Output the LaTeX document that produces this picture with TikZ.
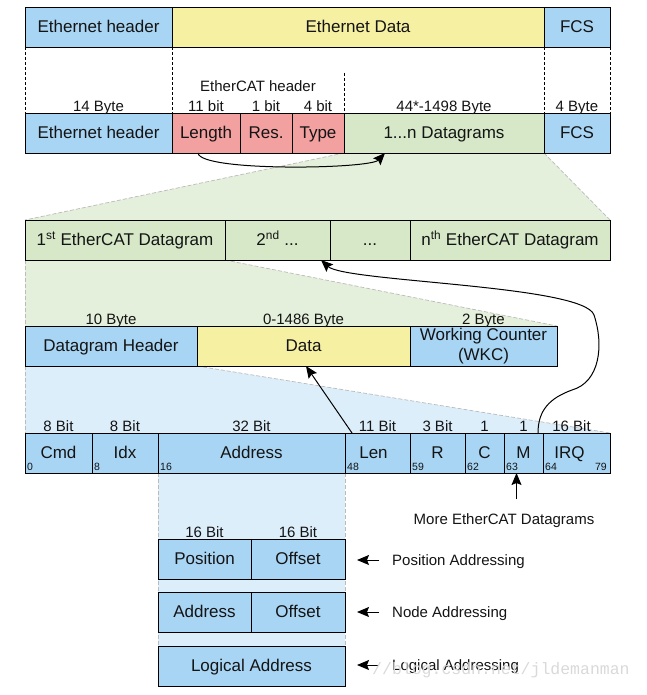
\documentclass[tikz,border=0pt]{standalone}
\usepackage{fontspec}
\setmainfont{Liberation Sans}
\newfontfamily\wmfont{Liberation Mono}
\usetikzlibrary{arrows.meta,backgrounds}
\definecolor{cblue}{HTML}{A9D5F5}
\definecolor{cyell}{HTML}{F5F0A2}
\definecolor{cpink}{HTML}{F2A0A0}
\definecolor{cgreen}{HTML}{D6E8C8}
\definecolor{lgreen}{HTML}{E4F0DB}
\definecolor{lblue}{HTML}{DDEEFB}
\definecolor{edgegrey}{HTML}{BBBBBB}
\definecolor{ink}{HTML}{141414}
\tikzset{
  box/.style={draw=black, line width=0.9pt, inner sep=0pt, outer sep=0pt,
    anchor=north west, minimum height=40pt, text height=13.5pt, text depth=2.5pt,
    font=\fontsize{17}{20}\selectfont, text=ink},
  lab/.style={font=\fontsize{15}{18}\selectfont, inner sep=0pt, anchor=base, text=ink},
  smallnum/.style={font=\fontsize{10.5}{12}\selectfont, inner sep=0pt, text=ink},
  arr/.style={-{Stealth[length=12pt,width=10pt,inset=2pt]}, line width=1pt},
  topdash/.style={dash pattern=on 3pt off 2pt, line width=0.7pt},
  greydash/.style={draw=edgegrey, dash pattern=on 4pt off 2pt, line width=0.7pt}
}
\begin{document}
\begin{tikzpicture}[x=1pt,y=-1pt]
\useasboundingbox (0,0) rectangle (646,695);

% Row 1
\node[box, fill=cblue, minimum width=147pt] (eh1) at (25,7) {Ethernet header};
\node[box, fill=cyell, minimum width=372pt] (ed1) at (172,7) {Ethernet Data};
\node[box, fill=cblue, minimum width=66pt] (fcs1) at (544,7) {FCS};

% Row 2
\node[box, fill=cblue, minimum width=147pt] (eh2) at (25,113) {Ethernet header};
\node[box, fill=cpink, minimum width=68pt] (len) at (172,113) {Length};
\node[box, fill=cpink, minimum width=52pt] (res) at (240,113) {Res.};
\node[box, fill=cpink, minimum width=52pt] (typ) at (292,113) {Type};
\node[box, fill=cgreen, minimum width=200pt] (dgs) at (344,113) {1...n Datagrams};
\node[box, fill=cblue, minimum width=66pt] (fcs2) at (544,113) {FCS};

\draw[topdash] (eh1.south west) -- (eh2.north west);
\draw[topdash] (eh1.south east) -- (len.north west);
\draw[topdash] (fcs1.south west) -- (fcs2.north west);
\draw[topdash] (fcs1.south east) -- (fcs2.north east);
\coordinate (ecdash) at (344,73);
\draw[topdash] (ecdash) -- (typ.north east);

\node[lab] (ech) at (258,92) {EtherCAT header};
\node[lab] (l14) at ([yshift=1.5pt]eh2.north) {14 Byte};
\node[lab] (l11) at ([yshift=1.5pt]len.north) {11 bit};
\node[lab] (l1b) at ([yshift=1.5pt]res.north) {1 bit};
\node[lab] (l4b) at ([yshift=1.5pt]typ.north) {4 bit};
\node[lab] (l44) at ([yshift=1.5pt]dgs.north) {44*-1498 Byte};
\node[lab] (l4B) at ([yshift=1.5pt]fcs2.north) {4 Byte};

% Row 3
\node[box, fill=cgreen, minimum width=200pt] (dg1) at (25,220) {1\textsuperscript{st} EtherCAT Datagram};
\node[box, fill=cgreen, minimum width=105pt] (dg2) at (225,220) {2\textsuperscript{nd} ...};
\node[box, fill=cgreen, minimum width=80pt] (dg3) at (330,220) {...};
\node[box, fill=cgreen, minimum width=200pt] (dgn) at (410,220) {n\textsuperscript{th} EtherCAT Datagram};

% Row 4
\node[box, fill=cblue, minimum width=172pt] (dh) at (25,326) {Datagram Header};
\node[box, fill=cyell, minimum width=213pt] (data) at (197,326) {Data};
\node[draw=black, line width=0.9pt, inner sep=0pt, outer sep=0pt, anchor=north west,
  minimum height=40pt, minimum width=147pt, fill=cblue, align=center, text=ink,
  font=\fontsize{17}{20}\selectfont] (wkc) at (410,326) {Working Counter\\(WKC)};

\node[lab] (l10) at ([yshift=1.5pt]dh.north) {10 Byte};
\node[lab] (l0) at ([yshift=1.5pt]data.north) {0-1486 Byte};
\node[lab] (l2) at ([yshift=1.5pt]wkc.north) {2 Byte};

% Row 5
\node[box, fill=cblue, minimum width=67pt] (cmd) at (25,433) {Cmd};
\node[box, fill=cblue, minimum width=66pt] (idx) at (92,433) {Idx};
\node[box, fill=cblue, minimum width=187pt] (addr) at (158,433) {Address};
\node[box, fill=cblue, minimum width=65pt] (lenf) at (345,433) {\hspace*{-8pt}Len};
\node[box, fill=cblue, minimum width=55pt] (rf) at (410,433) {R};
\node[box, fill=cblue, minimum width=39pt] (cf) at (465,433) {C};
\node[box, fill=cblue, minimum width=39pt] (mf) at (504,433) {M};
\node[box, fill=cblue, minimum width=67pt] (irq) at (543,433) {IRQ\hspace*{14pt}};

\node[lab] (b1) at ([yshift=2pt]cmd.north) {8 Bit};
\node[lab] (b2) at ([yshift=2pt]idx.north) {8 Bit};
\node[lab] (b3) at ([yshift=2pt]addr.north) {32 Bit};
\node[lab] (b4) at ([yshift=2pt]lenf.north) {11 Bit};
\node[lab] (b5) at ([yshift=2pt]rf.north) {3 Bit};
\node[lab] (b6) at ([yshift=2pt]cf.north) {1};
\node[lab] (b7) at ([yshift=2pt]mf.north) {1};
\node[lab] (b8) at ([xshift=-5pt,yshift=2pt]irq.north) {16 Bit};

\node[smallnum, anchor=base west] (n0) at ([xshift=2pt,yshift=2.5pt]cmd.south west) {0};
\node[smallnum, anchor=base west] (n8) at ([xshift=2pt,yshift=2.5pt]idx.south west) {8};
\node[smallnum, anchor=base west] (n16) at ([xshift=2pt,yshift=2.5pt]addr.south west) {16};
\node[smallnum, anchor=base west] (n48) at ([xshift=2pt,yshift=2.5pt]lenf.south west) {48};
\node[smallnum, anchor=base west] (n59) at ([xshift=2pt,yshift=2.5pt]rf.south west) {59};
\node[smallnum, anchor=base west] (n62) at ([xshift=2pt,yshift=2.5pt]cf.south west) {62};
\node[smallnum, anchor=base west] (n63) at ([xshift=2pt,yshift=2.5pt]mf.south west) {63};
\node[smallnum, anchor=base west] (n64) at ([xshift=2pt,yshift=2.5pt]irq.south west) {64};
\node[smallnum, anchor=base east] (n79) at ([xshift=-3pt,yshift=2.5pt]irq.south east) {79};

% Bottom address variants
\node[box, fill=cblue, minimum width=93pt] (pos) at (158,539) {Position};
\node[box, fill=cblue, minimum width=94pt] (off1) at (251,539) {Offset};
\node[box, fill=cblue, minimum width=93pt] (nad) at (158,592) {Address};
\node[box, fill=cblue, minimum width=94pt] (off2) at (251,592) {Offset};
\node[box, fill=cblue, minimum width=187pt] (logb) at (158,646) {Logical Address};

\node[lab] (p16) at ([yshift=2pt]pos.north) {16 Bit};
\node[lab] (o16) at ([yshift=2pt]off1.north) {16 Bit};

\node[lab, anchor=base west] (pa) at (392,565) {Position Addressing};
\node[lab, anchor=base west] (na) at (392,617) {Node Addressing};
\node[lab, anchor=base west] (la) at (392,670) {Logical Addressing};
\draw[arr] ([xshift=-13pt,yshift=5pt]pa.base west) -- ([xshift=-35pt,yshift=5pt]pa.base west);
\draw[arr] ([xshift=-13pt,yshift=5pt]na.base west) -- ([xshift=-35pt,yshift=5pt]na.base west);
\draw[arr] ([xshift=-13pt,yshift=5pt]la.base west) -- ([xshift=-35pt,yshift=5pt]la.base west);

\node[lab] (more) at (504,524) {More EtherCAT Datagrams};
\draw[arr] ([xshift=12.5pt,yshift=-26pt]mf.south west) -- ([xshift=12.5pt]mf.south west);

% Arrows
\draw[arr] ([xshift=26pt]len.south west) .. controls (200,172) and (370,169) .. ([xshift=41pt]dgs.south west);
\draw[arr] ([xshift=7pt]lenf.north west) -- ([xshift=109pt]data.south west);
\draw[arr] ([xshift=-5pt]mf.north east) .. controls (538,410) and (550,398) .. (572,390)
  .. controls (600,382) and (604,345) .. (594,315)
  .. controls (584,285) and (345,282) .. ([xshift=96pt]dg2.south west);

% Watermark
\node[anchor=base west, font=\wmfont\fontsize{16.5}{18}\selectfont, text=gray!30, inner sep=0pt] (wm) at (372,674) {//blog.csdn.net/jldemanman};

% Backgrounds
\begin{scope}[on background layer]
\fill[lgreen] (dgs.south west) -- (dg1.north west) -- (dgn.north east) -- (dgs.south east) -- cycle;
\draw[greydash] (dgs.south west) -- (dg1.north west);
\draw[greydash] (dgs.south east) -- (dgn.north east);
\fill[lgreen] (dg1.south west) -- (dh.north west) -- (wkc.north east) -- (dg1.south east) -- cycle;
\draw[greydash] (dg1.south west) -- (dh.north west);
\draw[greydash] (dg1.south east) -- (wkc.north east);
\fill[lblue] (dh.south west) -- (cmd.north west) -- (irq.north east) -- (dh.south east) -- cycle;
\draw[greydash] (dh.south west) -- (cmd.north west);
\draw[greydash] (dh.south east) -- (irq.north east);
\fill[lblue] (addr.south west) -- (logb.south west) -- (logb.south east) -- (addr.south east) -- cycle;
\draw[greydash] (addr.south west) -- (logb.north west);
\draw[greydash] (addr.south east) -- (logb.north east);
\end{scope}
\end{tikzpicture}
\end{document}
